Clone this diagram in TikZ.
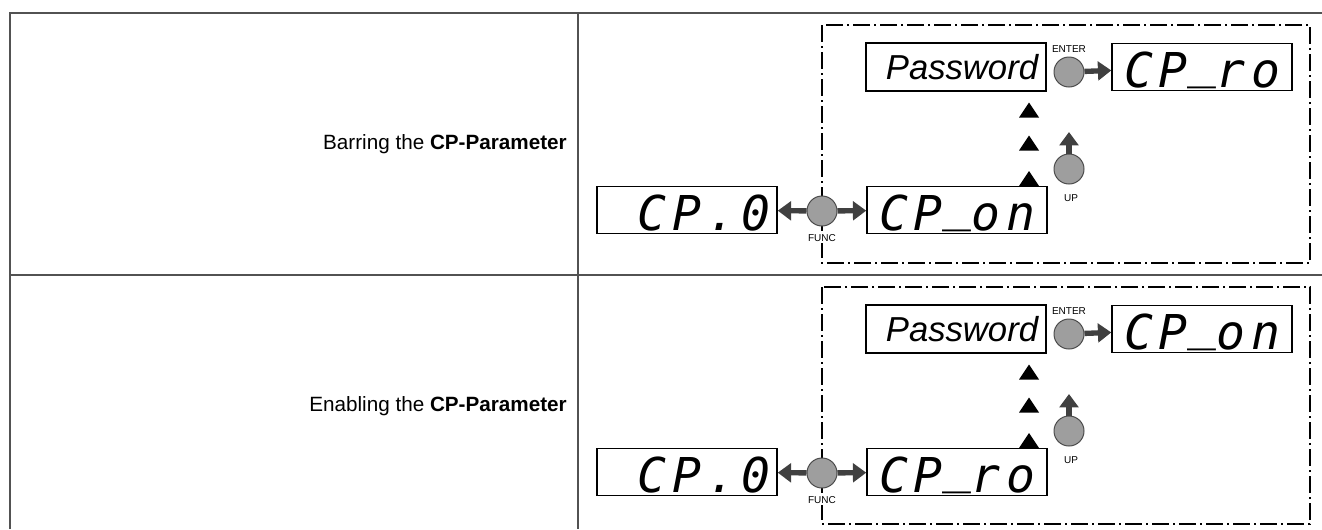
\documentclass[tikz,border=0pt]{standalone}
\usepackage{fontspec}
\setmainfont{Liberation Sans}
\newfontfamily\segfont{DejaVu Sans Mono}[LetterSpace=12]
\usetikzlibrary{arrows.meta, positioning}
\newcommand{\segbar}{\raisebox{0.2em}{\_}}

\begin{document}
\begin{tikzpicture}[x=0.75pt,y=-0.75pt,>=Triangle, font=\fontsize{15.5}{18}\selectfont]
  \tikzset{
    tableline/.style={draw=black!68, line width=1.5pt},
    panel/.style={draw=black, line width=1.1pt, dash pattern=on 12.75pt off 3pt on 1.5pt off 3pt},
    lcd/.style={draw=black, line width=1.1pt, minimum width=135pt, minimum height=35.25pt,
      inner sep=0pt, font=\fontsize{36}{36}\selectfont\segfont\itshape, text height=30.7pt, text depth=0pt},
    pwdbox/.style={draw=black, line width=1.1pt, minimum width=135pt, minimum height=36pt,
      inner sep=0pt, font=\fontsize{26}{30}\selectfont\itshape},
    knob/.style={circle, draw=black!70, fill=black!38, line width=0.75pt, minimum size=22.5pt, inner sep=0pt},
    keylbl/.style={font=\fontsize{7.5}{9}\selectfont, inner sep=1.5pt},
    key/.style={draw=black!75, line width=4pt, -{Triangle[length=10pt,width=14pt]}},
  }
  \useasboundingbox (0,0) rectangle (1322,529);

  % Table
  \draw[tableline] (10,529) -- (10,13) -- (1322,13);
  \draw[tableline] (10,275) -- (1322,275);
  \draw[tableline] (578,13) -- (578,529);

  \node[anchor=east, inner sep=0pt] (barring) at (567,144) {Barring the \textbf{CP-Parameter}};
  \node[anchor=east, inner sep=0pt] (enabling) at (567,406) {Enabling the \textbf{CP-Parameter}};

  % Top row
  \draw[panel] (822,25) rectangle (1310,263);
  \node[lcd] (cp0A) at (687,210) {\hspace*{0.722em}CP.0};
  \node[lcd] (onA) at (957,210) {CP\segbar on};
  \node[pwdbox] (pwdA) at (956,67) {\hspace*{9pt}Password};
  \node[lcd] (roA) at (1202,67) {CP\segbar ro};
  \node[knob] (funcA) at (822,211) {};
  \node[keylbl, fill=white, below=4pt of funcA] (funclblA) {FUNC};
  \node[knob] (enterA) at (1069,72) {};
  \node[keylbl] (enterlblA) at (1069,49) {ENTER};
  \node[knob] (upA) at (1069,169) {};
  \node[keylbl] (uplblA) at (1071,198) {UP};
  \coordinate (uptipA) at (1069,132);
  \draw[key] (funcA) -- (cp0A);
  \draw[key] (funcA) -- (onA);
  \draw[key] (enterA) -- (roA);
  \draw[key] (upA) -- (uptipA);
  \fill (1019,117.5) -- (1039,117.5) -- (1029,102.5) -- cycle;
  \fill (1019,150.5) -- (1039,150.5) -- (1029,135.5) -- cycle;
  \fill (1019,186) -- (1039,186) -- (1029,171) -- cycle;

  % Bottom row
  \draw[panel] (822,287) rectangle (1310,524);
  \node[lcd] (cp0B) at (687,472) {\hspace*{0.722em}CP.0};
  \node[lcd] (roB) at (957,472) {CP\segbar ro};
  \node[pwdbox] (pwdB) at (956,329) {\hspace*{9pt}Password};
  \node[lcd] (onB) at (1202,329) {CP\segbar on};
  \node[knob] (funcB) at (822,473) {};
  \node[keylbl, fill=white, below=4pt of funcB] (funclblB) {FUNC};
  \node[knob] (enterB) at (1069,334) {};
  \node[keylbl] (enterlblB) at (1069,311) {ENTER};
  \node[knob] (upB) at (1069,431) {};
  \node[keylbl] (uplblB) at (1071,460) {UP};
  \coordinate (uptipB) at (1069,394);
  \draw[key] (funcB) -- (cp0B);
  \draw[key] (funcB) -- (roB);
  \draw[key] (enterB) -- (onB);
  \draw[key] (upB) -- (uptipB);
  \fill (1019,379.5) -- (1039,379.5) -- (1029,364.5) -- cycle;
  \fill (1019,412.5) -- (1039,412.5) -- (1029,397.5) -- cycle;
  \fill (1019,448) -- (1039,448) -- (1029,433) -- cycle;
\end{tikzpicture}
\end{document}
